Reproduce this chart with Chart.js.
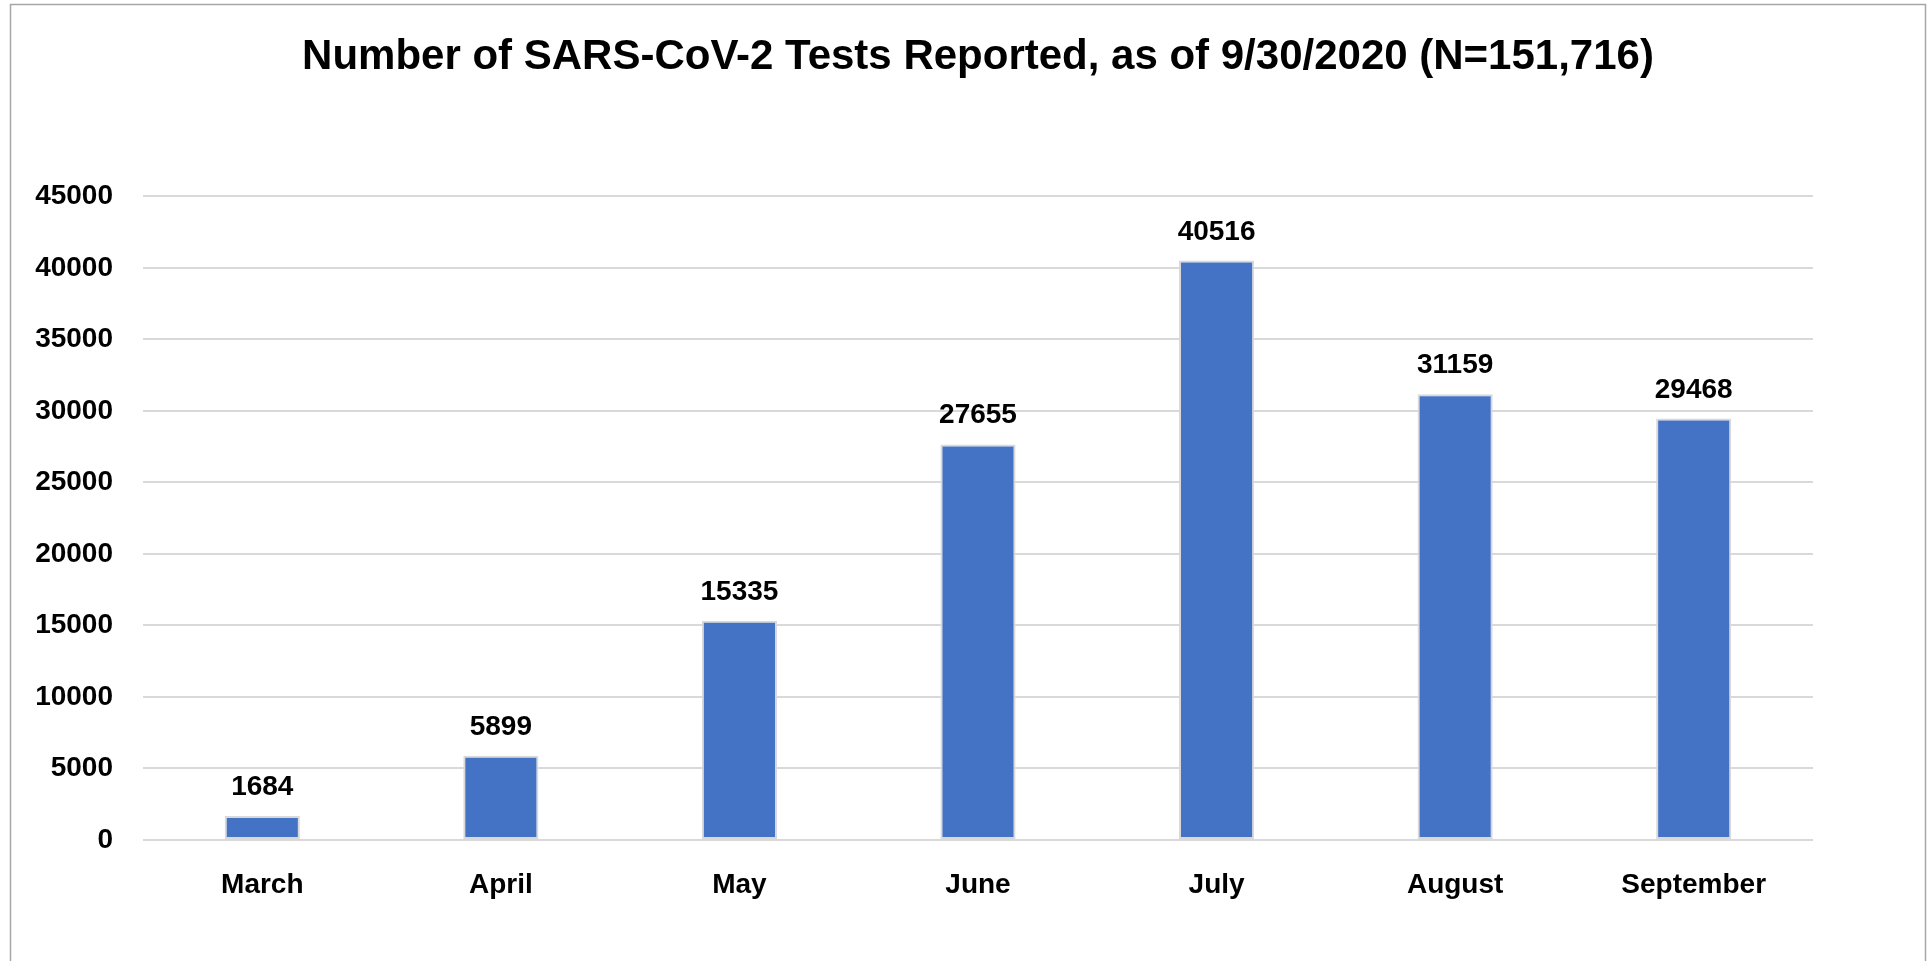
<!DOCTYPE html>
<html>
<head>
<meta charset="utf-8">
<title>SARS-CoV-2 Tests Reported</title>
<script src="https://cdn.jsdelivr.net/npm/chart.js@4.4.0/dist/chart.umd.min.js"></script>
<style>
    html, body { margin: 0; padding: 0; background: #fff; overflow: hidden; }
    canvas { display: block; }
</style>
</head>
<body>
<canvas id="tests-chart" width="1931" height="961"></canvas>
<script>
// Data
const months = ['March', 'April', 'May', 'June', 'July', 'August', 'September'];
const testCounts = [1684, 5899, 15335, 27655, 40516, 31159, 29468];
const yMin = 0;
const yMax = 45000;
const yStep = 5000;

const chartTitle = 'Number of SARS-CoV-2 Tests Reported, as of 9/30/2020 (N=151,716)';
const fontFamily = '"Liberation Sans", Arial, sans-serif';

// White background plus the thin grey frame around the chart
const frameBorder = {
    id: 'frameBorder',
    beforeDraw(chart) {
        const ctx = chart.ctx;
        ctx.save();
        ctx.fillStyle = '#ffffff';
        ctx.fillRect(0, 0, chart.width, chart.height);
        ctx.strokeStyle = '#a6a6a6';
        ctx.lineWidth = 1.5;
        ctx.strokeRect(10.5, 4.5, 1915, 1000);
        ctx.restore();
    }
};

// Value labels above each bar
const barValueLabels = {
    id: 'barValueLabels',
    afterDatasetsDraw(chart) {
        const ctx = chart.ctx;
        const meta = chart.getDatasetMeta(0);
        ctx.save();
        ctx.font = 'bold 28px ' + fontFamily;
        ctx.fillStyle = '#000000';
        ctx.textAlign = 'center';
        ctx.textBaseline = 'alphabetic';
        meta.data.forEach((bar, i) => {
            ctx.fillText(String(testCounts[i]), bar.x, bar.y - 21);
        });
        ctx.restore();
    }
};

const ctx = document.getElementById('tests-chart').getContext('2d');

new Chart(ctx, {
    type: 'bar',
    data: {
        labels: months,
        datasets: [{
            label: 'Tests',
            data: testCounts,
            backgroundColor: '#4472c4',
            borderColor: '#d9d9d9',
            borderWidth: 2,
            borderSkipped: false,
            barPercentage: 0.315,
            categoryPercentage: 1.0
        }]
    },
    options: {
        responsive: false,
        animation: false,
        layout: {
            padding: { top: 0, left: 0, right: 118, bottom: 0 }
        },
        plugins: {
            legend: { display: false },
            tooltip: { enabled: false },
            title: {
                display: true,
                fullSize: false, // centre over the plot area, like the original
                text: chartTitle,
                color: '#000000',
                font: { family: fontFamily, size: 42, weight: 'bold', lineHeight: 1.2 },
                padding: { top: 32, bottom: 114 }
            }
        },
        scales: {
            x: {
                grid: { display: false },
                border: { display: false },
                ticks: {
                    color: '#000000',
                    font: { family: fontFamily, size: 28, weight: 'bold' },
                    padding: 20,
                    maxRotation: 0
                },
                afterFit(scale) { scale.height = 121; }
            },
            y: {
                min: yMin,
                max: yMax,
                grid: { color: '#d9d9d9', lineWidth: 2, drawTicks: false },
                border: { display: false },
                ticks: {
                    stepSize: yStep,
                    color: '#000000',
                    font: { family: fontFamily, size: 28, weight: 'bold' },
                    padding: 30,
                    callback: (value) => String(value)
                },
                afterFit(scale) { scale.width = 143; }
            }
        }
    },
    plugins: [frameBorder, barValueLabels]
});
</script>
</body>
</html>
